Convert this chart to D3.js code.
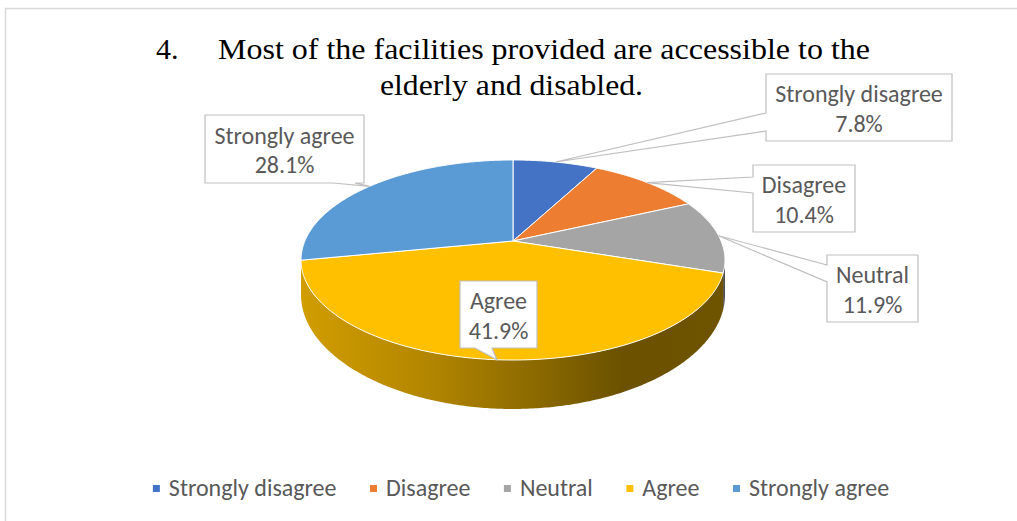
<!DOCTYPE html>
<html>
<head>
<meta charset="utf-8">
<script src="https://cdn.jsdelivr.net/npm/d3@7"></script>
<style>
  html, body { margin: 0; padding: 0; background: #fff; }
  svg { display: block; }
</style>
</head>
<body>
<script>
// Survey item 4: share of responses per answer
const categories = ["Strongly disagree", "Disagree", "Neutral", "Agree", "Strongly agree"];
const shares = [7.8, 10.4, 11.9, 41.9, 28.1];
const sliceColors = ["#4472C4", "#ED7D31", "#A5A5A5", "#FFC000", "#5B9BD5"];
const titleNumber = "4.";
const titleLines = ["Most of the facilities provided are accessible to the", "elderly and disabled."];

const W = 1017, H = 521;
const svg = d3.select("body").append("svg").attr("width", W).attr("height", H);

// chart frame (only the top and left edges fall inside the page)
svg.append("rect")
  .attr("x", 5.5).attr("y", 8.5).attr("width", W + 20).attr("height", H + 20)
  .attr("fill", "#fff").attr("stroke", "#d9d9d9").attr("stroke-width", 1.5);

// ---- title ----
const title = svg.append("g")
  .attr("font-family", "'Times New Roman', 'Liberation Serif', serif")
  .attr("font-size", 30).attr("fill", "#000");
title.append("text").attr("x", 156).attr("y", 58.5).text(titleNumber);
title.append("text").attr("x", 218).attr("y", 58.5)
  .attr("textLength", 652).attr("lengthAdjust", "spacingAndGlyphs").text(titleLines[0]);
title.append("text").attr("x", 380).attr("y", 95)
  .attr("textLength", 263).attr("lengthAdjust", "spacingAndGlyphs").text(titleLines[1]);

// ---- 3D pie projection ----
// A circle on a tilted plane seen in perspective: angle 0 is the far (top) point, clockwise.
const cx = 513, cy = 241;          // projected pie centre
const rx = 208.1, ry = 96.4;       // projected radii before perspective divide
const persp = 0.19;                // perspective strength of the top face
const depthBase = 32.8, depthPersp = 0.33; // thickness of the pie wall

function rim(a) {
  const u = Math.sin(a), w = Math.cos(a), k = 1 + persp * w;
  return [cx + rx * u / k, cy - ry * w / k];
}
function wall(a) {
  return depthBase / (1 + depthPersp * Math.cos(a));
}

const pie = d3.pie().sort(null).value(d => d);
const arcs = pie(shares);

// front part of the wall that can be seen: between the two silhouette points
const visL = Math.acos(-persp), visR = 2 * Math.PI - Math.acos(-persp);

const defs = svg.append("defs");
const shadeStops = [[0, 0.82], [0.3, 0.70], [0.55, 0.55], [0.76, 0.42], [1, 0.43]];
function shadeOf(color, k) {
  const c = d3.rgb(color);
  return d3.rgb(c.r * k, c.g * k, c.b * k).formatHex();
}
sliceColors.forEach((c, i) => {
  const g = defs.append("linearGradient").attr("id", "wall" + i)
    .attr("gradientUnits", "userSpaceOnUse")
    .attr("x1", cx - 212).attr("x2", cx + 212).attr("y1", 0).attr("y2", 0);
  shadeStops.forEach(([o, k]) => g.append("stop").attr("offset", o).attr("stop-color", shadeOf(c, k)));
});

function sample(a0, a1) {
  const n = Math.max(2, Math.ceil(Math.abs(a1 - a0) / 0.01));
  return d3.range(n + 1).map(i => a0 + (a1 - a0) * i / n);
}

const pieG = svg.append("g");

// walls
arcs.forEach((d, i) => {
  const s0 = Math.max(d.startAngle, visL), s1 = Math.min(d.endAngle, visR);
  if (s1 <= s0) return;
  const angs = sample(s0, s1);
  const top = angs.map(rim);
  const bottom = angs.slice().reverse().map(a => { const p = rim(a); return [p[0], p[1] + wall(a)]; });
  pieG.append("path")
    .attr("d", "M" + top.concat(bottom).map(p => p.join(",")).join("L") + "Z")
    .attr("fill", `url(#wall${i})`);
});

// top faces
arcs.forEach((d, i) => {
  const pts = [[cx, cy]].concat(sample(d.startAngle, d.endAngle).map(rim));
  pieG.append("path")
    .attr("d", "M" + pts.map(p => p.join(",")).join("L") + "Z")
    .attr("fill", sliceColors[i])
    .attr("stroke", "#fff").attr("stroke-width", 1).attr("stroke-linejoin", "round");
});

// ---- data callouts ----
// box placement and which edge carries the pointer
const calloutBoxes = [
  { x: 766, y: 74,  w: 186, h: 67, edge: "left",   b0: 39, b1: 57 },
  { x: 753, y: 165, w: 102, h: 67, edge: "left",   b0: 12, b1: 28 },
  { x: 827, y: 255, w: 91,  h: 67, edge: "left",   b0: 10, b1: 27 },
  { x: 460, y: 281, w: 77,  h: 67, edge: "bottom", b0: 15, b1: 32 },
  { x: 205, y: 115, w: 159, h: 68, edge: "bottom", b0: 128, b1: 150 }
];

const fmt = v => d3.format(".1f")(v) + "%";
const labels = svg.append("g")
  .attr("font-family", "Calibri, Carlito, 'Liberation Sans', Arial, sans-serif")
  .attr("font-size", 24).attr("fill", "#595959");

arcs.forEach((d, i) => {
  const b = calloutBoxes[i];
  const tip = rim((d.startAngle + d.endAngle) / 2);
  let pts;
  if (b.edge === "left") {
    pts = [[b.x, b.y], [b.x + b.w, b.y], [b.x + b.w, b.y + b.h], [b.x, b.y + b.h],
           [b.x, b.y + b.b1], tip, [b.x, b.y + b.b0]];
  } else {
    pts = [[b.x, b.y], [b.x + b.w, b.y], [b.x + b.w, b.y + b.h],
           [b.x + b.b1, b.y + b.h], tip, [b.x + b.b0, b.y + b.h], [b.x, b.y + b.h]];
  }
  labels.append("path")
    .attr("d", "M" + pts.map(p => p.join(",")).join("L") + "Z")
    .attr("fill", "#fff").attr("stroke", "#bfbfbf").attr("stroke-width", 1.2)
    .attr("stroke-linejoin", "miter");
  const mx = b.x + b.w / 2, my = b.y + b.h / 2;
  labels.append("text").attr("x", mx).attr("y", my - 5.2).attr("text-anchor", "middle").text(categories[i]);
  labels.append("text").attr("x", mx).attr("y", my + 24).attr("text-anchor", "middle").text(fmt(shares[i]));
});

// ---- legend ----
const legend = svg.append("g")
  .attr("font-family", "Calibri, Carlito, 'Liberation Sans', Arial, sans-serif")
  .attr("font-size", 24).attr("fill", "#595959");
const items = categories.map((c, i) => {
  const g = legend.append("g");
  g.append("rect").attr("x", 0).attr("y", -11).attr("width", 7).attr("height", 7).attr("fill", sliceColors[i]);
  const t = g.append("text").attr("x", 16).attr("y", 0).text(c);
  return { g, w: 16 + t.node().getComputedTextLength() };
});
const gap = 33.5;
const total = d3.sum(items, d => d.w) + gap * (items.length - 1);
let lx = 521 - total / 2;
items.forEach(it => {
  it.g.attr("transform", `translate(${lx},496)`);
  lx += it.w + gap;
});
</script>
</body>
</html>
